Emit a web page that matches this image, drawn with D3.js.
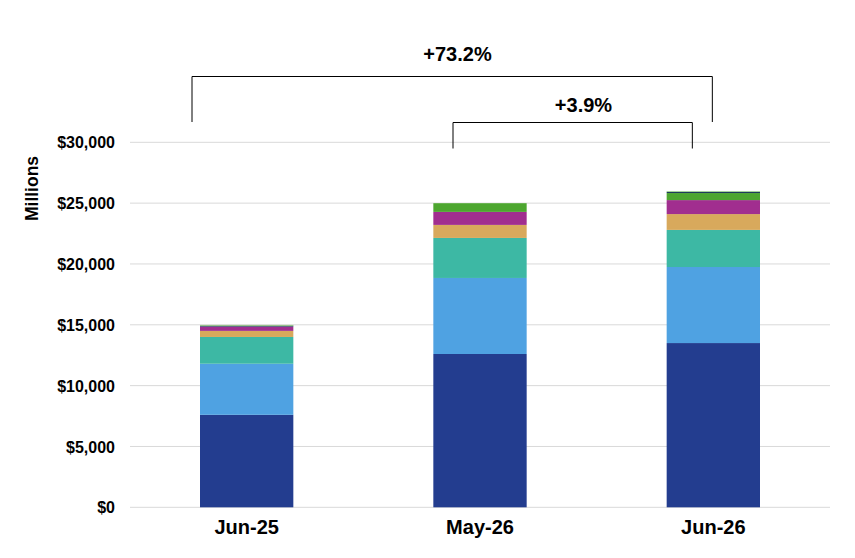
<!DOCTYPE html>
<html><head><meta charset="utf-8">
<script src="https://cdn.jsdelivr.net/npm/d3@7"></script>
<style>body{margin:0;background:#fff}svg{display:block;font-family:"Liberation Sans",Arial,sans-serif}</style>
</head><body><svg id="c" width="855" height="558"></svg>
<script>
const categories = ["Jun-25","May-26","Jun-26"];
const seriesNames = ["s1","s2","s3","s4","s5","s6","s7","s8"];
const seriesColors = ["#233D8F","#4FA2E2","#3DB8A4","#D8A95C","#A12E8F","#4DA62F","#1F3B5C","#8CCB6E"];
const s1 = [7600, 12600, 13500];
const s2 = [4200, 6250, 6250];
const s3 = [2200, 3290, 3050];
const s4 = [500, 1070, 1300];
const s5 = [350, 1070, 1150];
const s6 = [0, 715, 580];
const s7 = [80, 0, 100];
const s8 = [60, 0, 50];
const yTicks = [0,5000,10000,15000,20000,25000,30000];
const changes = [{from:0,to:2,label:"+73.2%"},{from:1,to:2,label:"+3.9%"}];

const seriesVals = [s1,s2,s3,s4,s5,s6,s7,s8];
const rows = categories.map((c,i)=>{const r={cat:c}; seriesNames.forEach((s,j)=>r[s]=seriesVals[j][i]); return r;});
const svg = d3.select("#c");
const x = d3.scaleBand().domain(categories).range([130,830]).paddingInner(0.6).paddingOuter(0.3);
const y = d3.scaleLinear().domain([0,30000]).range([507.3,142.3]);
const cx = c => x(c) + x.bandwidth()/2;

svg.append("g").selectAll("line").data(yTicks).join("line")
  .attr("x1",130).attr("x2",830).attr("y1",d=>y(d)).attr("y2",d=>y(d))
  .attr("stroke","#d9d9d9").attr("stroke-width",1);

const yAxis = svg.append("g").attr("transform","translate(115,0)")
  .call(d3.axisLeft(y).tickValues(yTicks).tickSize(0).tickPadding(0).tickFormat(d=>"$"+d3.format(",")(d)));
yAxis.select(".domain").remove();
yAxis.selectAll("text").attr("font-size",16).attr("font-weight","bold").attr("fill","#000").attr("font-family","Liberation Sans, Arial, sans-serif").attr("dy","0.35em");

svg.append("text").attr("transform","translate(38,188.5) rotate(-90)").attr("text-anchor","middle")
  .attr("font-size",17.5).attr("font-weight","bold").text("Millions");

const stack = d3.stack().keys(seriesNames)(rows);
svg.append("g").selectAll("g").data(stack).join("g").attr("fill",(d,i)=>seriesColors[i])
  .selectAll("rect").data(d=>d).join("rect")
  .attr("x",d=>x(d.data.cat)).attr("width",x.bandwidth())
  .attr("y",d=>y(d[1])).attr("height",d=>y(d[0])-y(d[1]));

const xAxis = svg.append("g").attr("transform","translate(0,534)")
  .call(d3.axisBottom(x).tickSize(0).tickPadding(0));
xAxis.select(".domain").remove();
xAxis.selectAll("text").attr("font-size",20).attr("font-weight","bold").attr("fill","#000").attr("font-family","Liberation Sans, Arial, sans-serif").attr("dy",0).attr("y",0);

// brackets
const bx = [
  {x1: x(categories[0]) - 8, x2: cx(categories[2]) - 1, top: 76.5, bot: 122, tx: 457.5, ty: 60.5},
  {x1: cx(categories[1]) - 27, x2: cx(categories[2]) - 21, top: 122.5, bot: 148.5, tx: 583.5, ty: 111.5}
];
changes.forEach((c,i)=>{
  const b = bx[i];
  svg.append("path").attr("d",`M${b.x1},${b.bot}V${b.top}H${b.x2}V${b.bot}`)
    .attr("fill","none").attr("stroke","#000").attr("stroke-width",1);
  svg.append("text").attr("x",b.tx).attr("y",b.ty).attr("text-anchor","middle")
    .attr("font-size",20).attr("font-weight","bold").text(c.label);
});
</script></body></html>
